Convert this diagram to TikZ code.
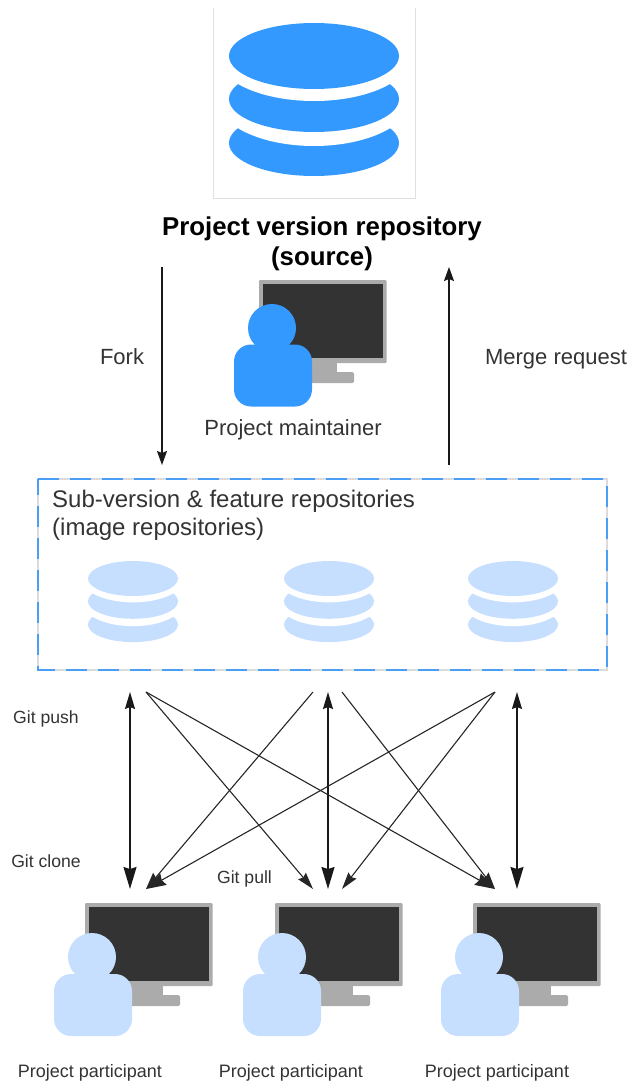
\documentclass[tikz,border=0pt]{standalone}
\usepackage{fontspec}
\setmainfont{Liberation Sans}
\usetikzlibrary{arrows.meta}
\definecolor{dbblue}{HTML}{3399FF}
\definecolor{lightblue}{HTML}{C7DFFF}
\definecolor{dashblue}{HTML}{4A9EF5}
\definecolor{screendark}{HTML}{333333}
\definecolor{bezelgray}{HTML}{ABABAB}
\definecolor{txtgray}{HTML}{333333}
\newcommand{\dbicon}[4]{%
  \begin{scope}[shift={(#1,#2)},scale=#3]
    \fill[#4] (0,87) ellipse (85 and 33);
    \fill[white] (0,43) ellipse (97 and 47);
    \fill[#4] (0,43) ellipse (85 and 33);
    \fill[white] (0,0) ellipse (97 and 45);
    \fill[#4] (0,0) ellipse (85 and 33);
  \end{scope}}
\newcommand{\monitoricon}[2]{%
  \begin{scope}[shift={(#1,#2)}]
    \fill[bezelgray] (40,80) rectangle (78,93);
    \fill[bezelgray,rounded corners=1.5pt] (40,92) rectangle (95,103);
    \fill[bezelgray,rounded corners=1pt] (0,0) rectangle (127.5,83);
    \fill[screendark] (4,4) rectangle (123.5,78);
  \end{scope}}
\newcommand{\personicon}[5]{%
  \fill[#5] (#1,#2) circle (24);
  \fill[#5,rounded corners=17pt] (#3,#4) rectangle ++(78,62);}
\tikzset{
  txt/.style={text=txtgray,inner sep=0pt,align=center},
  mainarrow/.style={draw=black!90,line width=1.5pt,-{Stealth[length=14pt,width=10pt,inset=2pt]}},
  vertarrow/.style={draw=black!90,line width=1.6pt,{Stealth[length=17pt,width=10pt,inset=2pt]}-{Stealth[length=22pt,width=13pt,inset=2pt]}},
  diagarrow/.style={draw=black!85,line width=1.1pt,-{Stealth[length=17pt,width=10pt,inset=2pt]}},
  bigdiag/.style={diagarrow,-{Stealth[length=20pt,width=13pt,inset=2pt]}},
  bigtxt/.style={txt,font=\fontsize{22}{28}\selectfont},
  boxtxt/.style={txt,font=\fontsize{24}{28}\selectfont},
  smalltxt/.style={txt,font=\fontsize{17.6}{20}\selectfont},
  parttxt/.style={txt,font=\fontsize{18}{20}\selectfont},
}
\begin{document}
\begin{tikzpicture}[x=1pt,y=-1pt]
\useasboundingbox (0,0) rectangle (627,1082);
% source frame
\draw[black!12,line width=1pt] (213,8) -- (213,198) -- (415,198) -- (415,8);
\dbicon{314}{56}{1}{dbblue}
\node[txt,text=black,font=\bfseries\fontsize{25.8}{30}\selectfont] (title) at (322,243.5) {Project version repository\\(source)};
% maintainer
\monitoricon{259}{280}
\personicon{272}{328}{234}{344.5}{dbblue}
\node[bigtxt] (maintainer) at (293,429.5) {Project maintainer};
\node[bigtxt] (fork) at (122,357) {Fork};
\node[bigtxt] (merge) at (556,359) {Merge request};
% image box
\draw[black!14,line width=1.6pt] (38,479) rectangle (607,670);
\draw[dashblue,line width=1.8pt,dash pattern=on 21pt off 11pt] (38,479) -- (607,479) -- (607,670) -- (38,670) -- cycle;
\node[boxtxt,anchor=west,align=left] (subver) at (52,515) {Sub-version \& feature repositories\\(image repositories)};
\dbicon{133}{578.5}{0.53}{lightblue}
\dbicon{329}{578.5}{0.53}{lightblue}
\dbicon{513}{578.5}{0.53}{lightblue}
% participants
\monitoricon{85}{903}
\personicon{92}{957}{54}{974}{lightblue}
\monitoricon{275}{903}
\personicon{282}{957}{243}{974}{lightblue}
\monitoricon{473}{903}
\personicon{479}{957}{441}{974}{lightblue}
\node[parttxt] (p1) at (90,1072.5) {Project participant};
\node[parttxt] (p2) at (291,1072.5) {Project participant};
\node[parttxt] (p3) at (497,1072.5) {Project participant};
\node[smalltxt] (push) at (46,719) {Git push};
\node[smalltxt] (clone) at (46,861) {Git clone};
\node[smalltxt] (pull) at (244.5,878.5) {Git pull};
% connector ends
\coordinate (forkA) at (162,267);
\coordinate (forkB) at (162,465);
\coordinate (mergeA) at (449,465);
\coordinate (mergeB) at (449,267);
\coordinate (t1) at (130,692);
\coordinate (t2) at (146,692);
\coordinate (t3) at (313,692);
\coordinate (t4) at (328,692);
\coordinate (t5) at (342,692);
\coordinate (t6) at (495,692);
\coordinate (t7) at (517,692);
\coordinate (b1) at (130,889);
\coordinate (b2) at (146,889);
\coordinate (b3) at (313,889);
\coordinate (b4) at (328,889);
\coordinate (b5) at (342,889);
\coordinate (b6) at (495,889);
\coordinate (b7) at (517,889);
\draw[mainarrow] (forkA) -- (forkB);
\draw[mainarrow] (mergeA) -- (mergeB);
\draw[vertarrow] (t1) -- (b1);
\draw[vertarrow] (t4) -- (b4);
\draw[vertarrow] (t7) -- (b7);
\draw[diagarrow] (t2) -- (b3);
\draw[bigdiag] (t2) -- (b6);
\draw[diagarrow] (t3) -- (b2);
\draw[diagarrow] (t5) -- (b6);
\draw[bigdiag] (t6) -- (b2);
\draw[diagarrow] (t6) -- (b5);
\end{tikzpicture}
\end{document}
